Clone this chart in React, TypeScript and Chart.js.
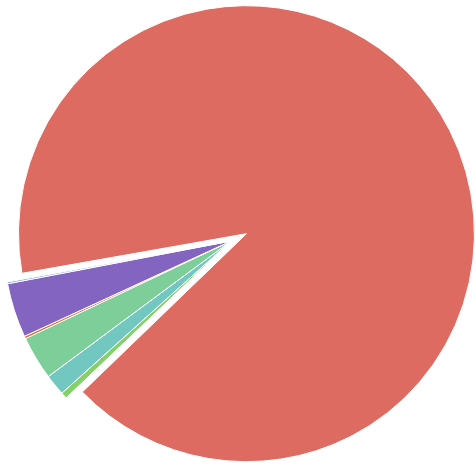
import React, { useEffect, useRef } from "react";
import { Chart, registerables } from "chart.js";

Chart.register(...registerables);

const categories = ["A", "B", "C", "D", "E", "F", "G"];
const values = [90.8, 0.45, 1.5, 3.1, 0.18, 3.87, 0.12];
const colors = ["#dd6b61", "#86d06a", "#72c8c0", "#7ece9a", "#e0703f", "#8364c0", "#7aa0e0"];
// index of the large slice, drawn on its own exploded layer
const mainIndex = 0;

const clear = "rgba(0,0,0,0)";

function makeChart(canvas: HTMLCanvasElement, layer: "main" | "rest") {
  const isMain = (i: number) => i === mainIndex;
  const show = (i: number) => (layer === "main" ? isMain(i) : !isMain(i));
  return new Chart(canvas, {
    type: "pie",
    data: {
      labels: categories,
      datasets: [
        {
          data: values,
          backgroundColor: colors.map((c, i) => (show(i) ? c : clear)),
          borderColor: colors.map((_, i) => (show(i) ? "#ffffff" : clear)),
          borderWidth: colors.map((_, i) => (show(i) ? 1 : 0)),
          offset: layer === "main" ? 38 : 0,
        },
      ],
    },
    options: {
      animation: false,
      responsive: false,
      rotation: 259.6,
      ...(layer === "rest" ? { radius: 227.5 } : {}),
      layout: {
        padding: layer === "rest" ? { left: 0, right: 14, top: 6, bottom: 0 } : 0,
      },
      plugins: {
        legend: { display: false },
        tooltip: { enabled: false },
      },
    },
  });
}

export default function App() {
  const refA = useRef<HTMLCanvasElement | null>(null);
  const refB = useRef<HTMLCanvasElement | null>(null);
  useEffect(() => {
    if (!refA.current || !refB.current) return;
    const a = makeChart(refA.current, "main");
    const b = makeChart(refB.current, "rest");
    return () => {
      a.destroy();
      b.destroy();
    };
  }, []);
  const cs: React.CSSProperties = { position: "absolute", left: 0, top: 0, width: 476, height: 476 };
  return (
    <div style={{ position: "absolute", left: 0, top: 0, width: 476, height: 476 }}>
      <canvas ref={refA} width={476} height={476} style={cs} />
      <canvas ref={refB} width={476} height={476} style={cs} />
    </div>
  );
}
